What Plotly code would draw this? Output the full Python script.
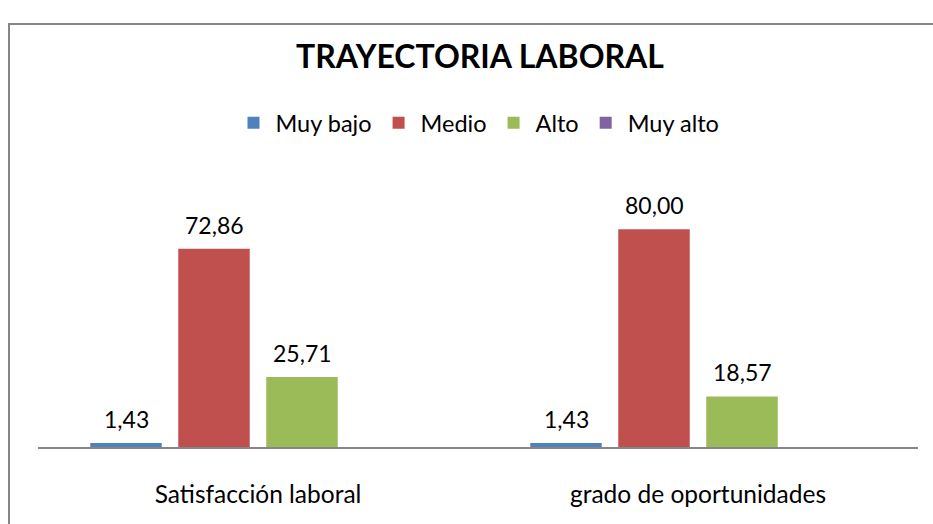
import plotly.graph_objects as go

categories = ["Satisfacción laboral", "grado de oportunidades"]
series_names = ["Muy bajo", "Medio", "Alto", "Muy alto"]
muy_bajo = [1.43, 1.43]
medio = [72.86, 80.00]
alto = [25.71, 18.57]
muy_alto = [None, None]
series_values = [muy_bajo, medio, alto, muy_alto]
colors = ["#4F81BD", "#C0504D", "#9BBB59", "#8064A2"]

FONT = "Lato"
BARGAP = 0.2
GROUPGAP = 0.1875

# plot area: x 38..918 px, y 202..447 px
W, H = 933, 524
L, R, T, B = 38, 15, 202, 77
pw, ph = W - L - R, H - T - B

def px2paper_x(p):
    return (p - L) / pw

def px2paper_y(p):
    return (H - B - p) / ph

fig = go.Figure()
n = len(series_names)
slot_px = (1 - BARGAP) * pw / len(categories) / n
for i, (name, vals, col) in enumerate(zip(series_names, series_values, colors)):
    fig.add_trace(go.Bar(
        x=categories, y=vals, name=name,
        marker=dict(color=col, line=dict(width=0)),
        cliponaxis=False,
    ))
    for c, v in zip(categories, vals):
        if v is None:
            continue
        fig.add_annotation(
            x=c, y=v, xref="x", yref="y",
            text=f"{v:.2f}".replace(".", ","),
            showarrow=False, xanchor="center", yanchor="middle",
            xshift=(i - (n - 1) / 2) * slot_px, yshift=24,
            font=dict(family=FONT, size=23, color="#000000"),
        )

fig.update_layout(
    width=W, height=H,
    margin=dict(l=L, r=R, t=T, b=B, pad=0),
    paper_bgcolor="white", plot_bgcolor="white",
    separators=",.",
    barmode="group", bargap=BARGAP, bargroupgap=GROUPGAP,
    font=dict(family=FONT, color="#000000"),
    title=dict(text="<b>TRAYECTORIA LABORAL</b>", font=dict(family=FONT, size=32, color="#000000"),
               x=px2paper_x(480), xref="paper", xanchor="center",
               y=1 - 57 / H, yref="container", yanchor="middle"),
    legend=dict(orientation="h", x=px2paper_x(478), xanchor="center",
                y=px2paper_y(123), yanchor="middle", itemwidth=34,
                font=dict(family=FONT, size=23.5, color="#000000"),
                bgcolor="rgba(0,0,0,0)"),
    xaxis=dict(showline=True, linecolor="#868686", linewidth=2, ticks="",
               tickfont=dict(family=FONT, size=24.5, color="#000000"),
               ticklabelstandoff=25, showgrid=False, zeroline=False),
    yaxis=dict(range=[0, 90], visible=False, showgrid=False, zeroline=False),
    showlegend=True,
)

fig.add_shape(type="rect", xref="paper", yref="paper",
              x0=px2paper_x(9), x1=px2paper_x(945),
              y0=px2paper_y(540), y1=px2paper_y(24),
              line=dict(color="#868686", width=2), fillcolor="rgba(0,0,0,0)", layer="below")

fig.write_html("out.html", config={"displayModeBar": False},
               post_script="document.body.style.margin='0';")
